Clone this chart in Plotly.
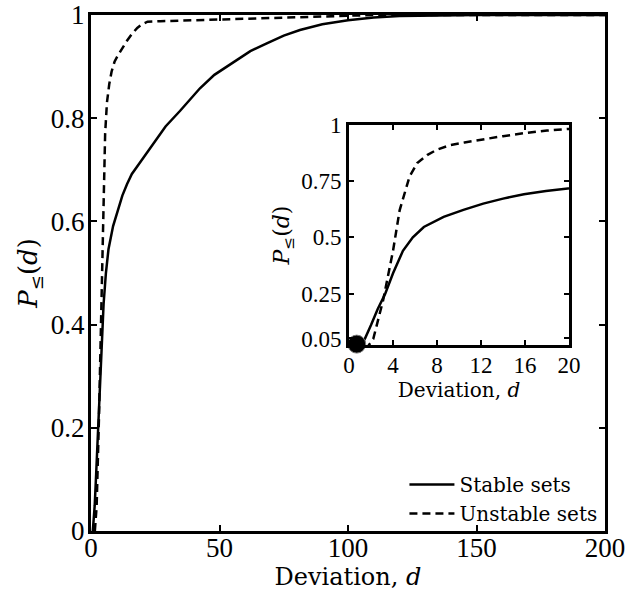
import plotly.graph_objects as go

# Cumulative distribution P_<=(d) of the deviation d
stable_d = [0.7, 1.45, 2.0, 2.6, 3.3, 4.0, 4.9, 5.8, 6.8, 8.6, 10.4, 12.2, 14.0,
            15.9, 17.9, 19.9, 24.2, 29.0, 34.6, 42.4, 48.0, 55.4, 62.0, 68.4,
            75.0, 81.3, 90.0, 100.0, 110.0, 120.0, 130.0, 140.0, 150.0, 200.0]
stable_p = [0.0, 0.05, 0.11, 0.18, 0.25, 0.34, 0.44, 0.50, 0.546, 0.591, 0.622,
            0.65, 0.672, 0.692, 0.706, 0.72, 0.752, 0.784, 0.814, 0.858, 0.884,
            0.909, 0.93, 0.945, 0.96, 0.971, 0.982, 0.99, 0.995, 0.998, 0.999,
            1.0, 1.0, 1.0]

unstable_d = [1.5, 2.2, 3.1, 4.0, 4.6, 5.5, 6.2, 7.1, 8.0, 9.2, 10.5, 12.2, 14.0,
              15.9, 18.0, 19.9, 22.0, 27.0, 34.6, 50.0, 70.0, 90.0, 110.0, 200.0]
unstable_p = [0.0, 0.048, 0.22, 0.44, 0.62, 0.77, 0.83, 0.866, 0.89, 0.91, 0.922,
              0.937, 0.95, 0.963, 0.975, 0.982, 0.987, 0.988, 0.989, 0.991, 0.994,
              0.997, 1.0, 1.0]

# Highlighted starting point in the zoomed panel
start_d = [0.7]
start_p = [0.025]

main_xticks = [0, 50, 100, 150, 200]
main_yticks = [0, 0.2, 0.4, 0.6, 0.8, 1]
main_yticktext = ["0", "0.2", "0.4", "0.6", "0.8", "1"]
inset_xticks = [0, 4, 8, 12, 16, 20]
inset_yticks = [0.05, 0.25, 0.5, 0.75, 1]
inset_yticktext = ["0.05", "0.25", "0.5", "0.75", "1"]

TICK_FONT = "Liberation Serif"
LABEL_FONT = "DejaVu Serif"
DASH = "8px,5px"

fig = go.Figure()

# Main panel
fig.add_trace(go.Scatter(x=stable_d, y=stable_p, mode="lines", name="Stable sets",
                         line=dict(color="black", width=2.5),
                         xaxis="x", yaxis="y"))
fig.add_trace(go.Scatter(x=unstable_d, y=unstable_p, mode="lines", name="Unstable sets",
                         line=dict(color="black", width=2.5, dash=DASH),
                         xaxis="x", yaxis="y"))

# Inset panel
fig.add_trace(go.Scatter(x=stable_d, y=stable_p, mode="lines", showlegend=False,
                         line=dict(color="black", width=2.5),
                         xaxis="x2", yaxis="y2"))
fig.add_trace(go.Scatter(x=unstable_d, y=unstable_p, mode="lines", showlegend=False,
                         line=dict(color="black", width=2.5, dash=DASH),
                         xaxis="x2", yaxis="y2"))
fig.add_trace(go.Scatter(x=start_d, y=start_p, mode="markers", showlegend=False,
                         cliponaxis=False,
                         marker=dict(color="black", size=18,
                                     line=dict(color="#777777", width=1)),
                         xaxis="x2", yaxis="y2"))

axis_common = dict(showline=True, linecolor="black", mirror="ticks",
                   ticks="inside", tickcolor="black", tickwidth=2,
                   showgrid=False, zeroline=False, automargin=False,
                   ticklabeloverflow="allow")

fig.update_layout(
    width=627, height=596,
    margin=dict(l=91, r=22, t=15, b=65),
    paper_bgcolor="white", plot_bgcolor="white",
    xaxis=dict(domain=[0, 1], range=[0, 200], tickvals=main_xticks,
               linewidth=3, ticklen=6, ticklabelstandoff=-9,
               tickfont=dict(family=TICK_FONT, size=27, color="black"),
               title=dict(text="Deviation, <i>d</i>", standoff=4,
                          font=dict(family=LABEL_FONT, size=24, color="black")),
               **axis_common),
    yaxis=dict(domain=[0, 1], range=[0, 1], tickvals=main_yticks,
               ticktext=main_yticktext, linewidth=3, ticklen=6,
               ticklabelstandoff=-2,
               tickfont=dict(family=TICK_FONT, size=27, color="black"),
               title=dict(text="<i>P</i><sub>≤</sub>(<i>d</i>)", standoff=6,
                          font=dict(family=LABEL_FONT, size=26, color="black")),
               **axis_common),
    xaxis2=dict(domain=[0.502, 0.930], range=[0, 20], anchor="y2",
                tickvals=inset_xticks, linewidth=3, ticklen=5,
                ticklabelstandoff=-3,
                tickfont=dict(family=TICK_FONT, size=23, color="black"),
                title=dict(text="Deviation, <i>d</i>", standoff=2,
                           font=dict(family=LABEL_FONT, size=20, color="black")),
                **axis_common),
    yaxis2=dict(domain=[0.360, 0.787], range=[0.02, 1], anchor="x2",
                tickvals=inset_yticks, ticktext=inset_yticktext,
                linewidth=3, ticklen=5,
                tickfont=dict(family=TICK_FONT, size=23, color="black"),
                title=dict(text="<i>P</i><sub>≤</sub>(<i>d</i>)", standoff=6,
                           font=dict(family=LABEL_FONT, size=22, color="black")),
                **axis_common),
    legend=dict(x=0.995, y=-0.004, xanchor="right", yanchor="bottom",
                bgcolor="rgba(255,255,255,0)", borderwidth=0,
                font=dict(family=LABEL_FONT, size=20, color="black"),
                tracegroupgap=0, itemwidth=45),
    showlegend=True,
)

fig.write_html("out.html")
